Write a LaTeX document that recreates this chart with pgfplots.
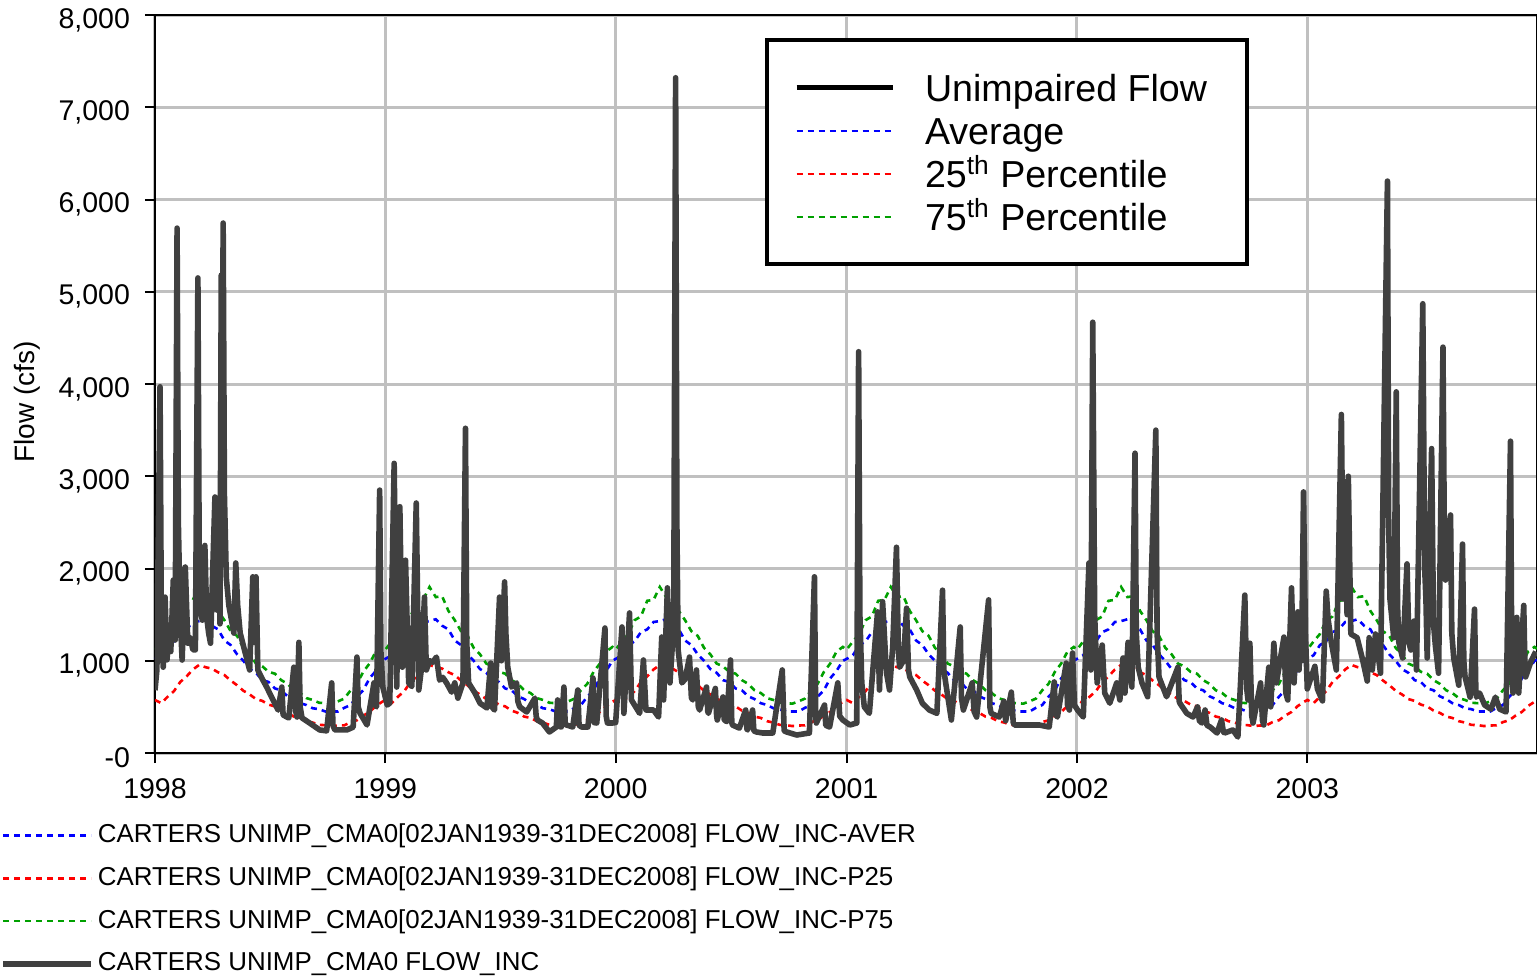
\documentclass[border=0pt]{standalone}
\usepackage{fontspec}
\setmainfont{Liberation Sans}
\usepackage{pgfplots}
\pgfplotsset{compat=1.18}
\usepackage{pgfplotstable}
\definecolor{flowgray}{RGB}{64,64,64}
\definecolor{gridgray}{RGB}{192,192,192}
\definecolor{pgreen}{RGB}{0,160,0}

\pgfplotstableread{
d avg p25 p75
0 1020 575 1120
10 1060 540 1210
20 1170 610 1290
30 1210 670 1440
40 1310 770 1480
50 1340 830 1650
60 1420 905 1660
70 1430 955 1800
80 1450 930 1690
90 1380 915 1700
100 1340 875 1540
110 1220 845 1440
120 1170 785 1320
130 1070 735 1270
140 1000 675 1140
150 910 635 1070
160 870 585 970
170 790 565 940
180 770 525 880
190 700 505 860
200 680 460 790
210 615 435 750
220 585 395 680
230 540 380 650
240 520 345 595
250 485 330 575
260 475 305 545
270 450 302 540
280 450 292 535
290 450 298 560
300 490 300 590
310 520 335 680
320 610 355 750
330 680 405 880
340 810 445 970
350 890 510 1100
360 1000 555 1150
365 1020 575 1120
375 1060 540 1210
385 1170 610 1290
395 1210 670 1440
405 1310 770 1480
415 1340 830 1650
425 1420 905 1660
435 1430 955 1800
445 1450 930 1690
455 1380 915 1700
465 1340 875 1540
475 1220 845 1440
485 1170 785 1320
495 1070 735 1270
505 1000 675 1140
515 910 635 1070
525 870 585 970
535 790 565 940
545 770 525 880
555 700 505 860
565 680 460 790
575 615 435 750
585 585 395 680
595 540 380 650
605 520 345 595
615 485 330 575
625 475 305 545
635 450 302 540
645 450 292 535
655 450 298 560
665 490 300 590
675 520 335 680
685 610 355 750
695 680 405 880
705 810 445 970
715 890 510 1100
725 1000 555 1150
730 1020 575 1120
740 1060 540 1210
750 1170 610 1290
760 1210 670 1440
770 1310 770 1480
780 1340 830 1650
790 1420 905 1660
800 1430 955 1800
810 1450 930 1690
820 1380 915 1700
830 1340 875 1540
840 1220 845 1440
850 1170 785 1320
860 1070 735 1270
870 1000 675 1140
880 910 635 1070
890 870 585 970
900 790 565 940
910 770 525 880
920 700 505 860
930 680 460 790
940 615 435 750
950 585 395 680
960 540 380 650
970 520 345 595
980 485 330 575
990 475 305 545
1000 450 302 540
1010 450 292 535
1020 450 298 560
1030 490 300 590
1040 520 335 680
1050 610 355 750
1060 680 405 880
1070 810 445 970
1080 890 510 1100
1090 1000 555 1150
1096 1020 575 1120
1106 1060 540 1210
1116 1170 610 1290
1126 1210 670 1440
1136 1310 770 1480
1146 1340 830 1650
1156 1420 905 1660
1166 1430 955 1800
1176 1450 930 1690
1186 1380 915 1700
1196 1340 875 1540
1206 1220 845 1440
1216 1170 785 1320
1226 1070 735 1270
1236 1000 675 1140
1246 910 635 1070
1256 870 585 970
1266 790 565 940
1276 770 525 880
1286 700 505 860
1296 680 460 790
1306 615 435 750
1316 585 395 680
1326 540 380 650
1336 520 345 595
1346 485 330 575
1356 475 305 545
1366 450 302 540
1376 450 292 535
1386 450 298 560
1396 490 300 590
1406 520 335 680
1416 610 355 750
1426 680 405 880
1436 810 445 970
1446 890 510 1100
1456 1000 555 1150
1461 1020 575 1120
1471 1060 540 1210
1481 1170 610 1290
1491 1210 670 1440
1501 1310 770 1480
1511 1340 830 1650
1521 1420 905 1660
1531 1430 955 1800
1541 1450 930 1690
1551 1380 915 1700
1561 1340 875 1540
1571 1220 845 1440
1581 1170 785 1320
1591 1070 735 1270
1601 1000 675 1140
1611 910 635 1070
1621 870 585 970
1631 790 565 940
1641 770 525 880
1651 700 505 860
1661 680 460 790
1671 615 435 750
1681 585 395 680
1691 540 380 650
1701 520 345 595
1711 485 330 575
1721 475 305 545
1731 450 302 540
1741 450 292 535
1751 450 298 560
1761 490 300 590
1771 520 335 680
1781 610 355 750
1791 680 405 880
1801 810 445 970
1811 890 510 1100
1821 1000 555 1150
1826 1020 575 1120
1836 1060 540 1210
1846 1170 610 1290
1856 1210 670 1440
1866 1310 770 1480
1876 1340 830 1650
1886 1420 905 1660
1896 1430 955 1800
1906 1450 930 1690
1916 1380 915 1700
1926 1340 875 1540
1936 1220 845 1440
1946 1170 785 1320
1956 1070 735 1270
1966 1000 675 1140
1976 910 635 1070
1986 870 585 970
1996 790 565 940
2006 770 525 880
2016 700 505 860
2026 680 460 790
2036 615 435 750
2046 585 395 680
2056 540 380 650
2066 520 345 595
2076 485 330 575
2086 475 305 545
2096 450 302 540
2106 450 292 535
2116 450 298 560
2126 490 300 590
2136 520 335 680
2146 610 355 750
2156 680 405 880
2166 810 445 970
2176 890 510 1100
2186 1000 555 1150
2190 1010 570 1130
}\clim

\pgfplotstableread{
d q
0 680
3 900
5 2200
8 3970
10 1500
13 930
16 1690
19 1010
22 1300
25 1100
29 1875
32 1225
35 5690
37 2500
40 1474
43 1008
48 2016
52 1190
56 1250
60 1120
64 1117
68 5150
70 2200
71 1580
75 1440
79 2250
82 1470
85 1300
88 1190
95 2775
98 1550
101 2230
103 1400
105 5180
106 2400
108 5745
110 2800
113 1900
117 1600
121 1450
125 1300
128 2060
131 1600
135 1300
143 1085
150 900
155 1910
157 1200
160 1910
163 900
171 790
177 715
187 575
195 466
201 715
203 412
212 380
220 930
223 450
225 390
228 1200
230 500
233 380
245 325
261 250
272 240
280 760
282 300
285 250
304 250
314 280
320 1040
322 500
325 430
336 304
347 760
349 520
351 500
356 2850
358 1100
361 715
368 520
372 540
379 3140
383 715
388 2670
392 930
397 2090
402 760
407 720
414 2710
418 683
422 900
427 1690
430 900
435 1000
440 985
446 1040
451 790
456 820
462 760
470 660
475 760
480 595
488 760
492 3520
494 1200
497 760
507 650
515 540
526 488
532 975
534 500
538 466
546 1690
549 1000
554 1855
556 1300
559 930
565 715
573 760
575 560
578 500
589 445
602 595
604 400
606 358
614 325
625 228
636 282
638 575
640 290
644 282
648 715
650 320
652 304
662 282
670 683
672 300
676 282
686 282
694 813
696 330
700 325
713 1355
715 400
717 325
725 325
730 330
740 1366
743 430
752 1518
755 575
768 430
774 1008
778 466
790 466
798 390
803 1257
806 575
812 1790
816 760
822 1400
825 7320
827 2500
829 1117
835 760
840 800
847 1040
850 600
852 575
858 900
861 500
863 466
874 715
876 450
877 430
888 700
890 400
891 358
900 607
902 360
906 340
912 1008
914 330
915 304
926 270
936 466
938 260
939 250
947 466
949 240
953 228
963 217
979 217
994 900
997 240
1001 228
1017 195
1037 217
1045 1910
1047 400
1048 325
1061 520
1063 300
1069 282
1082 760
1085 400
1090 358
1101 304
1112 325
1115 4350
1117 1500
1120 760
1124 500
1132 430
1145 1530
1148 683
1153 1640
1159 875
1164 683
1169 1150
1175 2230
1178 1100
1180 930
1186 1000
1191 1570
1194 900
1196 825
1207 683
1216 540
1227 466
1239 430
1248 1765
1250 900
1253 760
1262 358
1276 1366
1278 600
1281 466
1295 760
1298 450
1302 390
1321 1660
1323 500
1325 430
1338 390
1345 560
1348 350
1357 660
1360 330
1362 304
1381 304
1401 304
1417 282
1425 770
1427 420
1430 390
1444 975
1446 520
1449 466
1454 1084
1457 520
1462 466
1471 390
1480 2060
1483 900
1486 4670
1489 1500
1493 760
1501 1170
1505 650
1513 540
1524 760
1529 575
1534 1030
1537 650
1542 1200
1548 715
1553 3250
1555 1300
1558 930
1564 760
1573 610
1586 3500
1588 1300
1591 825
1603 610
1621 930
1623 560
1624 540
1635 430
1645 390
1652 500
1655 350
1659 325
1664 466
1667 300
1672 282
1683 217
1690 358
1693 230
1695 217
1708 250
1716 173
1727 1712
1730 700
1732 575
1735 1190
1738 400
1740 325
1752 760
1755 350
1757 304
1765 930
1768 500
1773 1190
1777 760
1789 1257
1792 650
1795 575
1801 1790
1805 760
1811 1530
1813 900
1815 1518
1817 1000
1820 2830
1823 1300
1826 695
1838 940
1842 695
1850 565
1856 1755
1859 1450
1864 1200
1872 900
1880 3670
1883 1670
1887 2940
1889 1500
1891 3000
1895 1290
1905 1250
1913 1030
1921 780
1924 1250
1929 900
1934 1290
1942 865
1953 6200
1955 2500
1957 1670
1963 1250
1967 3915
1969 1600
1971 1200
1977 1030
1984 2050
1987 1200
1990 1117
1995 1430
1999 900
2009 4870
2012 2000
2014 1670
2016 1030
2023 3300
2026 1400
2029 1160
2034 865
2041 4400
2043 2500
2045 1875
2053 2580
2055 1300
2058 1030
2066 735
2072 2265
2074 1000
2076 825
2084 605
2091 1560
2093 700
2094 605
2099 650
2107 520
2117 475
2124 605
2131 475
2141 445
2148 3380
2150 1000
2152 650
2158 1470
2160 800
2161 650
2169 1600
2171 900
2172 825
2180 985
2188 1100
}\flow

\begin{document}
\begin{tikzpicture}
\path[use as bounding box] (-77.5pt,-111.5pt) rectangle (691pt,376.5pt);
\begin{axis}[
  at={(0pt,0pt)}, anchor=south west,
  scale only axis, width=691pt, height=369pt,
  xmin=0, xmax=2190, ymin=0, ymax=8000,
  xtick={0,365,730,1096,1461,1826},
  xticklabels={\mbox{1998},\mbox{1999},\mbox{2000},\mbox{2001},\mbox{2002},\mbox{2003}},
  ytick={0,1000,2000,3000,4000,5000,6000,7000,8000},
  yticklabels={\mbox{-0},\mbox{1,000},\mbox{2,000},\mbox{3,000},\mbox{4,000},\mbox{5,000},\mbox{6,000},\mbox{7,000},\mbox{8,000}},
  tick align=outside, tick pos=left,
  major tick length=5pt,
  tick style={black, line width=1pt},
  axis line style={black, line width=1.25pt},
  grid=major,
  major grid style={gridgray, line width=1.5pt},
  tick label style={font=\fontsize{14.25}{17}\selectfont},
  yticklabel style={xshift=-4pt, yshift=-2.5pt},
  xticklabel style={yshift=-4.5pt},
  ylabel={Flow (cfs)},
  ylabel style={at={(axis description cs:-0.0926,0.4756)}, anchor=center, font=\fontsize{14}{17}\selectfont},
  legend image code/.code={\draw[#1] (0pt,0pt) -- (44pt,0pt);},
  legend cell align=left,
  legend style={at={(-0.1122,-0.0827)}, anchor=north west, draw=none, fill=none,
    inner xsep=0pt, inner ysep=0pt,
    font=\fontsize{12.95}{15}\selectfont,
    nodes={text height=10pt, text depth=3pt, inner ysep=4.175pt, inner xsep=0pt},
    /tikz/every odd column/.append style={column sep=2pt}},
]
\addplot[blue, line width=1.3pt, dash pattern=on 3pt off 2.5pt] table[x=d, y=avg]{\clim};
\addlegendentry{CARTERS UNIMP\_CMA0[02JAN1939-31DEC2008] FLOW\_INC-AVER}
\addplot[red, line width=1.3pt, dash pattern=on 3pt off 2.5pt] table[x=d, y=p25]{\clim};
\addlegendentry{CARTERS UNIMP\_CMA0[02JAN1939-31DEC2008] FLOW\_INC-P25}
\addplot[pgreen, line width=1.3pt, dash pattern=on 3pt off 2.5pt] table[x=d, y=p75]{\clim};
\addlegendentry{CARTERS UNIMP\_CMA0[02JAN1939-31DEC2008] FLOW\_INC-P75}
\addplot[flowgray, line width=2.8pt, line join=round] table[x=d, y=q]{\flow};
\addlegendentry{CARTERS UNIMP\_CMA0 FLOW\_INC}
\end{axis}
\begin{axis}[
  at={(0pt,0pt)}, anchor=south west,
  scale only axis, width=691pt, height=369pt,
  hide axis, xmin=0, xmax=1, ymin=0, ymax=1,
  legend image code/.code={\draw[#1] (0pt,0pt) -- (48pt,0pt);},
  legend cell align=left,
  legend style={at={(0.4414,0.9688)}, anchor=north west, draw=black, line width=2pt, fill=white,
    inner xsep=13.5pt, inner ysep=13pt,
    font=\fontsize{18.8}{22}\selectfont,
    nodes={text height=16pt, text depth=2pt, inner ysep=1.75pt, inner xsep=0pt},
    /tikz/every odd column/.append style={column sep=15pt}},
]
\addlegendimage{black, line width=2.5pt}
\addlegendentry{Unimpaired Flow\kern6.5pt\null}
\addlegendimage{blue, line width=1pt, dash pattern=on 3pt off 2.5pt}
\addlegendentry{Average}
\addlegendimage{red, line width=1pt, dash pattern=on 3pt off 2.5pt}
\addlegendentry{25\textsuperscript{th} Percentile}
\addlegendimage{pgreen, line width=1pt, dash pattern=on 3pt off 2.5pt}
\addlegendentry{75\textsuperscript{th} Percentile}
\end{axis}
\end{tikzpicture}
\end{document}
